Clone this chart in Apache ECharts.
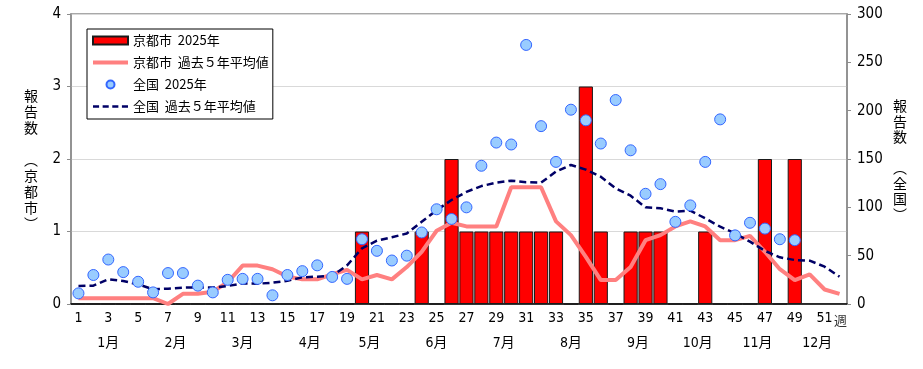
<!DOCTYPE html>
<html>
<head>
<meta charset="utf-8">
<script src="https://cdn.jsdelivr.net/npm/echarts@6/dist/echarts.min.js"></script>
<style>
html,body{margin:0;padding:0;background:#fff;}
#chart{width:923px;height:369px;}
</style>
</head>
<body>
<div id="chart"></div>
<script>
// ---- data ----
const weeks = ['1','2','3','4','5','6','7','8','9','10','11','12','13','14','15','16','17','18','19','20','21','22','23','24','25','26','27','28','29','30','31','32','33','34','35','36','37','38','39','40','41','42','43','44','45','46','47','48','49','50','51','52'];
const kyoto2025 = [0,0,0,0,0,0,0,0,0,0, 0,0,0,0,0,0,0,0,0,1, 0,0,0,1,0,2,1,1,1,1, 1,1,1,0,3,1,0,1,1,1, 0,0,1,0,0,0,2,0,2,null, null,null];
const kyotoAvg = [0.08,0.08,0.08,0.08,0.08,0.08,0,0.14,0.14,0.17, 0.3,0.53,0.53,0.48,0.38,0.34,0.34,0.41,0.47,0.34, 0.4,0.34,0.51,0.72,1.01,1.12,1.07,1.07,1.07,1.61, 1.61,1.61,1.14,0.95,0.65,0.33,0.33,0.51,0.88,0.95, 1.07,1.14,1.07,0.88,0.88,0.94,0.72,0.48,0.33,0.41, 0.2,0.14];
const national2025 = [11,30,46,33,23,12,32,32,19,12, 25,26,26,9,30,34,40,28,26,67, 55,45,50,74,98,88,100,143,167,165, 268,184,147,201,190,166,211,159,114,124, 85,102,147,191,71,84,78,67,66,null, null,null];
const nationalAvg = [18.6,19,25.5,23.8,20.3,15.2,15.9,16.9,17.2,17, 18.6,21.4,21,22,24,27.6,28.3,29,40,57.6, 65.5,69,73,85,97,107.6,116,122,125.5,127.6, 126,125.5,137,143.8,139,131.7,119.7,112,100,99, 95.5,96.5,88.6,80,73,64.5,55,48.3,45.5,44.8, 38.6,28.3];
const seriesNames = ['京都市  2025年','京都市  過去５年平均値','全国  2025年','全国  過去５年平均値'];
const months = ['1月','2月','3月','4月','5月','6月','7月','8月','9月','10月','11月','12月'];
const monthCenterWeek = [3,7.5,12,16.5,20.5,25,29.5,34,38.5,42.5,46.5,50.5];
const weekUnit = '週';
const leftName = ['報','告','数','','︵','京','都','市','︶'];
const rightName = ['報','告','数','','︵','全','国','︶'];

const FONT = "'Liberation Sans Narrow','DejaVu Sans Condensed','Noto Sans CJK JP',sans-serif";
const SOLID_ICON = 'path://M0,0H35V4H0Z';
const DASH_ICON = 'path://M0,0h6v2.6h-6z M9.5,0h6v2.6h-6z M19,0h6v2.6h-6z M28.5,0h6v2.6h-6z';
const chart = echarts.init(document.getElementById('chart'));
chart.setOption({
  animation:false,
  backgroundColor:'#fff',
  textStyle:{fontFamily:FONT},
  grid:{left:71,right:76,top:14,bottom:65,show:true,borderColor:'#8c8c8c',borderWidth:1.5,containLabel:false},
  legend:{
    orient:'vertical', left:87, top:29, padding:[5,4,6,5], itemGap:9,
    itemWidth:35, itemHeight:8, borderColor:'#000', borderWidth:1, backgroundColor:'#fff',
    textStyle:{fontSize:13,color:'#000',fontFamily:"'Noto Sans CJK JP',sans-serif"},
    data:[
      {name:seriesNames[0],icon:'rect'},
      {name:seriesNames[1],icon:SOLID_ICON,itemStyle:{color:'#ff8080',borderWidth:0}},
      {name:seriesNames[2],icon:'circle'},
      {name:seriesNames[3],icon:DASH_ICON,itemStyle:{color:'#000066',borderWidth:0}}
    ]
  },
  xAxis:{
    type:'category', data:weeks, boundaryGap:true,
    axisLine:{lineStyle:{color:'#000',width:1.5}},
    axisTick:{show:false},
    axisLabel:{
      interval:1,
      fontSize:14,color:'#000',fontFamily:FONT,margin:7
    },
    splitLine:{show:false}
  },
  yAxis:[
    {type:'value',min:0,max:4,interval:1,position:'left',
     axisLine:{show:true,lineStyle:{color:'#8c8c8c',width:1.5}},
     axisTick:{show:true,length:4,lineStyle:{color:'#8c8c8c'}},
     axisLabel:{fontSize:15,color:'#000',fontFamily:FONT,margin:10},
     splitLine:{show:true,lineStyle:{color:'#d9d9d9',width:1}}},
    {type:'value',min:0,max:300,interval:50,position:'right',
     axisLine:{show:true,lineStyle:{color:'#8c8c8c',width:1.5}},
     axisTick:{show:true,length:4,lineStyle:{color:'#8c8c8c'}},
     axisLabel:{fontSize:15,color:'#000',fontFamily:FONT,margin:10},
     splitLine:{show:false}}
  ],
  series:[
    {name:seriesNames[0],type:'bar',yAxisIndex:0,data:kyoto2025,barCategoryGap:'5%',
     itemStyle:{color:'#ff0000',borderColor:'#1a1a1a',borderWidth:1},z:2},
    {name:seriesNames[1],type:'line',yAxisIndex:0,data:kyotoAvg,symbol:'none',showSymbol:false,
     lineStyle:{color:'#ff8080',width:4},itemStyle:{color:'#ff8080'},z:3},
    {name:seriesNames[3],type:'line',yAxisIndex:1,data:nationalAvg,symbol:'none',showSymbol:false,
     lineStyle:{color:'#000066',width:2.5,type:[7,4]},itemStyle:{color:'#000066'},z:4},
    {name:seriesNames[2],type:'scatter',yAxisIndex:1,data:national2025,symbol:'circle',symbolSize:11,
     itemStyle:{color:'#99ccff',borderColor:'#3366ff',borderWidth:1,opacity:1},z:5}
  ]
});

function weekToPx(w){
  const i = w-1, a = Math.floor(i), b = Math.ceil(i);
  const pa = chart.convertToPixel({xAxisIndex:0}, a);
  const pb = chart.convertToPixel({xAxisIndex:0}, b);
  return pa + (pb-pa)*(i-a);
}
const g = [];
months.forEach(function(m,k){
  g.push({type:'text',x:weekToPx(monthCenterWeek[k]),y:343,
    style:{text:m,fontSize:14,fill:'#000',fontFamily:FONT,textAlign:'center',textVerticalAlign:'middle'}});
});
g.push({type:'text',x:weekToPx(weeks.length)+1,y:320,
  style:{text:weekUnit,fontSize:13,fill:'#333',fontFamily:"'Noto Sans CJK JP',sans-serif",textAlign:'center',textVerticalAlign:'middle'}});
g.push({type:'text',x:31,y:160,style:{text:leftName.join('\n'),fontSize:14,lineHeight:16,fill:'#000',
  fontFamily:"'Noto Sans CJK JP',sans-serif",textAlign:'center',textVerticalAlign:'middle'}});
g.push({type:'text',x:900,y:160,style:{text:rightName.join('\n'),fontSize:14,lineHeight:15.5,fill:'#000',
  fontFamily:"'Noto Sans CJK JP',sans-serif",textAlign:'center',textVerticalAlign:'middle'}});
chart.setOption({graphic:g});
</script>
</body>
</html>
